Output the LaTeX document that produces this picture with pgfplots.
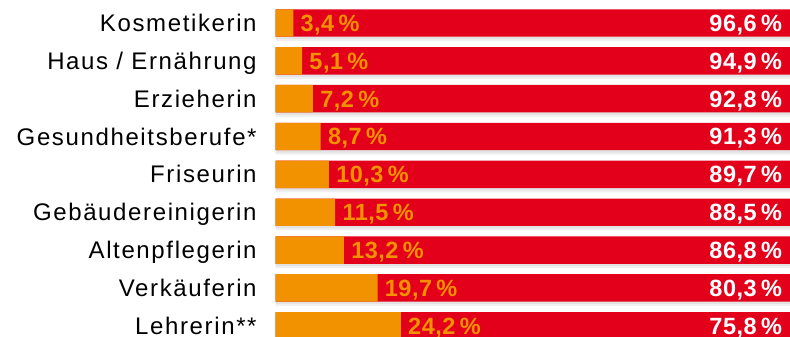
\documentclass[border=0pt]{standalone}
\usepackage{pgfplots}
\pgfplotsset{compat=1.18}
\usepackage{pgfplotstable}
\usepackage{fontspec}
\setmainfont{Liberation Sans}
\newfontfamily\lab[LetterSpace=6.8]{Liberation Sans}
\newfontfamily\num[LetterSpace=2]{Liberation Sans Bold}
\definecolor{dred}{RGB}{226,0,26}
\definecolor{dorange}{RGB}{243,146,0}

\pgfplotstableread{
y o r
0 3.4 96.6
1 5.1 94.9
2 7.2 92.8
3 8.7 91.3
4 10.3 89.7
5 11.5 88.5
6 13.2 86.8
7 19.7 80.3
8 24.2 75.8
}\data

\pgfplotsset{pctlabel/.style={point meta=explicit,
  nodes near coords={\pgfmathprintnumber[fixed,fixed zerofill,precision=1,use comma,assume math mode=true]{\pgfplotspointmeta}\hspace{2.2pt}\%}}}

\begin{document}
\begin{tikzpicture}
\begin{axis}[
  name=ax,
  scale only axis,
  width=258.5pt, height=168pt,
  xbar, bar shift=0pt,
  bar width=13.7pt,
  xmin=0, xmax=100,
  ymin=-0.608, ymax=8.272,
  y dir=reverse,
  axis line style={draw=none},
  enlargelimits=false,
  clip=false,
  xtick=\empty,
  ytick={0,...,8},
  yticklabels={Kosmetikerin,Haus / Ernährung,Erzieherin,Gesundheitsberufe*,Friseurin,Gebäudereinigerin,Altenpflegerin,Verkäuferin,Lehrerin**},
  major tick length=0pt,
  tick style={draw=none},
  yticklabel style={font=\lab\fontsize{12}{12}\selectfont, anchor=east, inner sep=0pt, text height=8.6pt, text depth=0pt, xshift=-9.35pt},
]
% soft shadow below the bars
\addplot[draw=none, fill=black!6, bar shift=-2.2pt, forget plot]
  table[x expr=\thisrow{o}+\thisrow{r}, y=y] {\data};
\addplot[draw=none, fill=black!11, bar shift=-1.2pt, forget plot]
  table[x expr=\thisrow{o}+\thisrow{r}, y=y] {\data};
\addplot[draw=none, fill=dred, pctlabel,
  every node near coord/.style={anchor=east, inner sep=0pt, xshift=-5.2pt, text height=8.4pt, text depth=0pt, text=white, font=\num\fontsize{11.75}{12}\selectfont}]
  table[x expr=\thisrow{o}+\thisrow{r}, y=y, meta=r] {\data};
\addplot[draw=none, fill=dorange, pctlabel,
  every node near coord/.style={anchor=west, inner sep=0pt, xshift=3.5pt, text height=8.4pt, text depth=0pt, text=dorange, font=\num\fontsize{11.75}{12}\selectfont}]
  table[x=o, y=y, meta=o] {\data};
\end{axis}
\pgfresetboundingbox
\useasboundingbox ([xshift=-137.85pt]ax.south west) rectangle ([xshift=257.15pt]ax.north west);
\end{tikzpicture}
\end{document}
